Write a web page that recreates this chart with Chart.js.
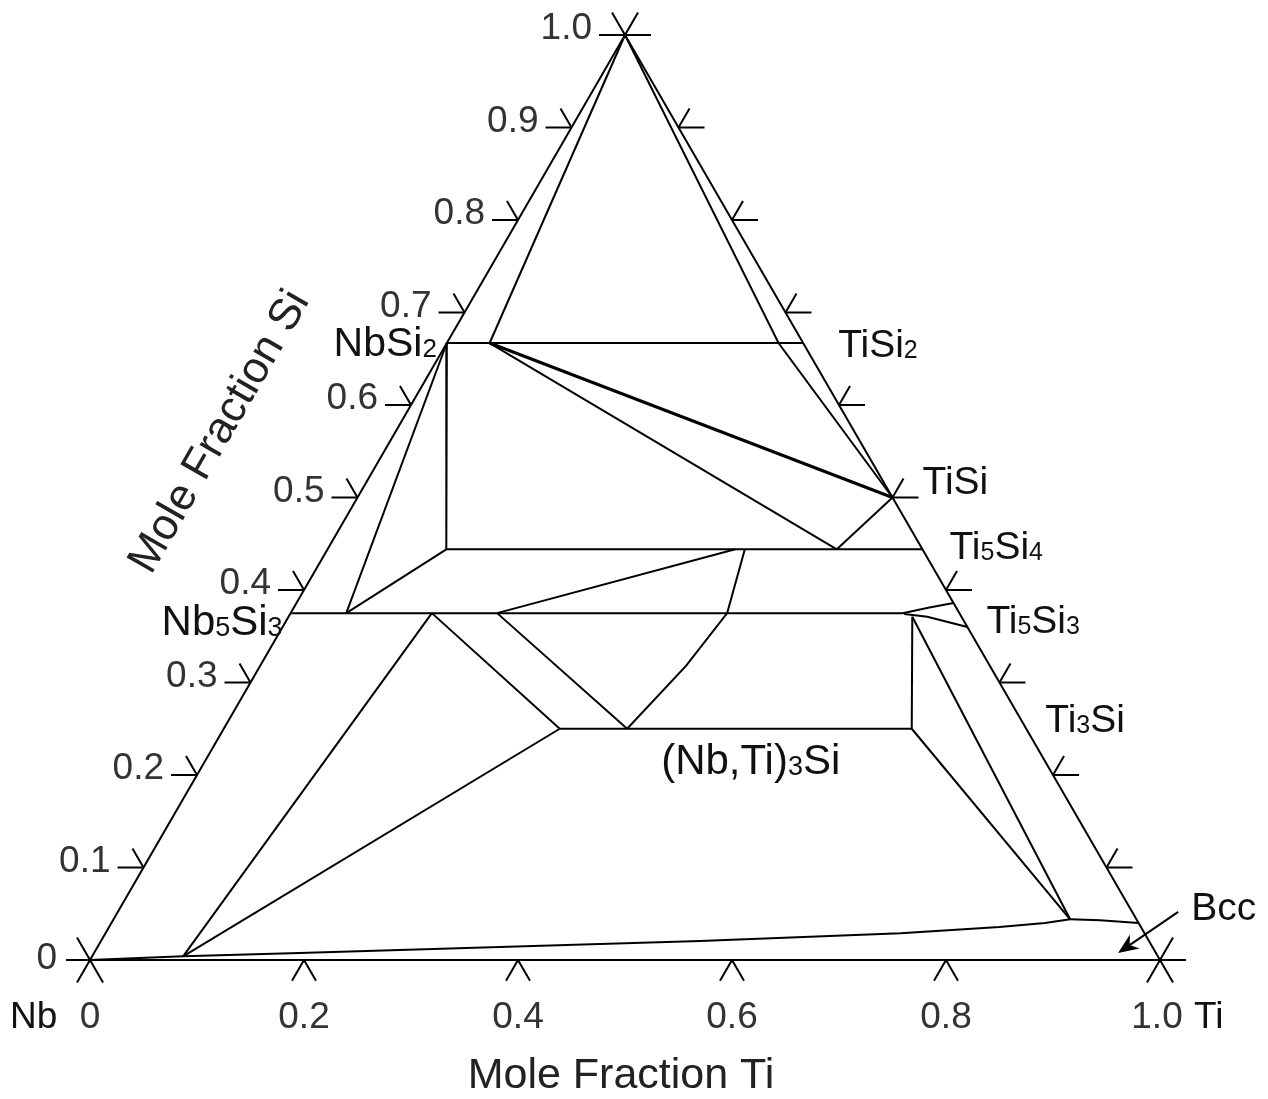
<!DOCTYPE html>
<html>
<head>
<meta charset="utf-8">
<script src="https://cdn.jsdelivr.net/npm/chart.js@4.4.0/dist/chart.umd.min.js"></script>
<style>
  html, body { margin: 0; padding: 0; background: #fff; }
  canvas { display: block; }
</style>
</head>
<body>
<canvas id="ternary" width="1268" height="1099"></canvas>
<script>
// every composition is [Ti, Si] mole fraction, Nb is the remainder
const outline = [[0, 0], [1, 0], [0, 1], [0, 0]];

// NbSi2 / TiSi2 region
const apexToNbSi2Side = [[0, 1], [0.04, 0.667]];
const apexToTiSi = [[0, 1], [0.31, 0.667], [0.5, 0.5]];
const si2Line = [[0, 0.667], [0.333, 0.667]];
const si2ToTiSi = [[0.04, 0.667], [0.5, 0.5]];
const si2ToTi5Si4 = [[0.04, 0.667], [0.476, 0.444]];
const tiSiTie = [[0.476, 0.444], [0.5, 0.5]];

// Ti5Si4 level
const ti5si4Line = [[0.111, 0.444], [0.556, 0.444]];
const nbSi2Down = [[0, 0.667], [0.111, 0.444]];
const nbSi2ToNb5Si3 = [[0, 0.667], [0.052, 0.375]];
const ti5si4ToNb5Si3 = [[0.111, 0.444], [0.052, 0.375]];

// 5:3 silicide level
const m5si3Line = [[0, 0.375], [0.572, 0.375], [0.594, 0.381], [0.614, 0.386]];
const ti5si3Lower = [[0.574, 0.374], [0.597, 0.371], [0.64, 0.36]];
const nb5si3ToBcc = [[0.132, 0.375], [0.085, 0.004]];
const nb5si3To3Si = [[0.132, 0.375], [0.314, 0.25]];
const m3siToBcc = [[0.314, 0.25], [0.085, 0.004]];
const nb5si3To3SiRight = [[0.193, 0.375], [0.377, 0.25]];
const nb5si3ToTi5Si4 = [[0.193, 0.375], [0.381, 0.444]];
const ti5si4Curve = [[0.39, 0.444], [0.408, 0.375], [0.398, 0.318], [0.377, 0.25]];

// (Nb,Ti)3Si level and Bcc
const m3siLine = [[0.314, 0.25], [0.643, 0.25]];
const m3siUp = [[0.643, 0.25], [0.583, 0.371]];
const m3siToBcc2 = [[0.643, 0.25], [0.894, 0.044]];
const ti5si3ToBcc = [[0.583, 0.371], [0.894, 0.044]];
const bccTop = [[0.894, 0.044], [0.9225, 0.043], [0.96, 0.04]];
const bccCurve = [[0, 0], [0.085, 0.004], [0.192, 0.0076], [0.376, 0.014], [0.56, 0.0205],
                  [0.743, 0.029], [0.832, 0.0357], [0.8725, 0.04], [0.894, 0.044]];

// axis ticks
const siTicks = [0.1, 0.2, 0.3, 0.4, 0.5, 0.6, 0.7, 0.8, 0.9];
const tiTicks = [0.2, 0.4, 0.6, 0.8];
const siTickValues = [0, 0.1, 0.2, 0.3, 0.4, 0.5, 0.6, 0.7, 0.8, 0.9, 1.0];
const siTickLabels = ['0', '0.1', '0.2', '0.3', '0.4', '0.5', '0.6', '0.7', '0.8', '0.9', '1.0'];
const tiTickValues = [0, 0.2, 0.4, 0.6, 0.8, 1.0];
const tiTickLabels = ['0', '0.2', '0.4', '0.6', '0.8', '1.0'];

// Bcc arrow, tail then head
const bccArrow = [[0.991, 0.052], [0.957, 0.0076]];

const toXY = p => ({ x: p[0] + p[1] / 2, y: p[1] });

const lines = [
    outline, apexToNbSi2Side, apexToTiSi, si2Line, si2ToTi5Si4, tiSiTie,
    ti5si4Line, nbSi2Down, nbSi2ToNb5Si3, ti5si4ToNb5Si3, m5si3Line, ti5si3Lower,
    nb5si3ToBcc, nb5si3To3Si, m3siToBcc, nb5si3To3SiRight, nb5si3ToTi5Si4, ti5si4Curve,
    m3siLine, m3siUp, m3siToBcc2, ti5si3ToBcc, bccTop, bccCurve
];

const datasets = lines.map(l => ({
    data: l.map(toXY),
    showLine: true,
    borderColor: '#000',
    borderWidth: 2,
    pointRadius: 0,
    tension: 0,
    clip: false
}));
// the tie line to TiSi is drawn heavier
datasets.push({
    data: si2ToTiSi.map(toXY),
    showLine: true,
    borderColor: '#000',
    borderWidth: 3,
    pointRadius: 0,
    clip: false
});

const FONT = '"Liberation Sans", Arial, sans-serif';

function drawRich(ctx, parts, x, y, size, align) {
    const sub = Math.round(size * 0.64);
    let w = 0;
    parts.forEach(([txt, isSub]) => {
        ctx.font = (isSub ? sub : size) + 'px ' + FONT;
        w += ctx.measureText(txt).width;
    });
    let cx = align === 'right' ? x - w : x;
    ctx.textAlign = 'left';
    ctx.textBaseline = 'alphabetic';
    parts.forEach(([txt, isSub]) => {
        ctx.font = (isSub ? sub : size) + 'px ' + FONT;
        ctx.fillText(txt, cx, y + (isSub ? 1 : 0));
        cx += ctx.measureText(txt).width;
    });
}

const ternaryDecor = {
    id: 'ternaryDecor',
    beforeDraw(chart) {
        const ctx = chart.ctx;
        ctx.save();
        ctx.fillStyle = '#fff';
        ctx.fillRect(0, 0, chart.width, chart.height);
        ctx.restore();
    },
    afterDatasetsDraw(chart) {
        const ctx = chart.ctx;
        const xs = chart.scales.x, ys = chart.scales.y;
        const px = (ti, si) => [xs.getPixelForValue(ti + si / 2), ys.getPixelForValue(si)];
        const c = 0.5, s = 0.866;

        ctx.save();
        ctx.strokeStyle = '#000';
        ctx.lineWidth = 2;
        const seg = (x0, y0, x1, y1) => {
            ctx.beginPath(); ctx.moveTo(x0, y0); ctx.lineTo(x1, y1); ctx.stroke();
        };

        // left edge ticks
        siTicks.forEach(v => {
            const [x, y] = px(0, v);
            seg(x, y, x - 26, y);
            seg(x, y, x - c * 22, y - s * 22);
        });
        // right edge ticks
        siTicks.forEach(v => {
            const [x, y] = px(1 - v, v);
            seg(x, y, x + 26, y);
            seg(x, y, x + c * 22, y - s * 22);
        });
        // bottom ticks
        tiTicks.forEach(v => {
            const [x, y] = px(v, 0);
            seg(x, y, x - c * 24, y + s * 24);
            seg(x, y, x + c * 24, y + s * 24);
        });
        // corners
        let [x, y] = px(0, 0);
        seg(x, y, x - 24, y);
        seg(x, y, x - c * 26, y + s * 26);
        seg(x - c * 26, y - s * 26, x + c * 26, y + s * 26);
        [x, y] = px(0, 1);
        seg(x - 26, y, x + 26, y);
        seg(x, y, x + c * 26, y - s * 26);
        seg(x, y, x - c * 26, y - s * 26);
        [x, y] = px(1, 0);
        seg(x, y, x + 26, y);
        seg(x, y, x + c * 26, y + s * 26);
        seg(x - c * 26, y + s * 26, x + c * 26, y - s * 26);

        // Bcc arrow
        const [tx, ty] = px(bccArrow[0][0], bccArrow[0][1]);
        const [hx, hy] = px(bccArrow[1][0], bccArrow[1][1]);
        const ang = Math.atan2(hy - ty, hx - tx);
        seg(tx, ty, hx - Math.cos(ang) * 10, hy - Math.sin(ang) * 10);
        ctx.fillStyle = '#000';
        ctx.beginPath();
        ctx.moveTo(hx, hy);
        ctx.lineTo(hx - Math.cos(ang - 0.4) * 22, hy - Math.sin(ang - 0.4) * 22);
        ctx.lineTo(hx - Math.cos(ang) * 14, hy - Math.sin(ang) * 14);
        ctx.lineTo(hx - Math.cos(ang + 0.4) * 22, hy - Math.sin(ang + 0.4) * 22);
        ctx.closePath();
        ctx.fill();

        // tick labels
        ctx.fillStyle = '#333';
        ctx.font = '37px ' + FONT;
        ctx.textAlign = 'right';
        ctx.textBaseline = 'middle';
        siTickValues.forEach((v, i) => {
            const [lx, ly] = px(0, v);
            ctx.fillText(siTickLabels[i], lx - 33, ly - (v === 0 ? 1 : 6));
        });
        ctx.textAlign = 'center';
        ctx.textBaseline = 'alphabetic';
        tiTickValues.forEach((v, i) => {
            const [lx, ly] = px(v, 0);
            ctx.fillText(tiTickLabels[i], lx + (v === 1 ? -3 : 0), ly + 68);
        });

        // component names at the bottom corners
        ctx.fillStyle = '#111';
        ctx.font = '37px ' + FONT;
        ctx.textAlign = 'left';
        let [nx, ny] = px(0, 0);
        ctx.fillText('Nb', nx - 80, ny + 68);
        [nx, ny] = px(1, 0);
        ctx.fillText('Ti', nx + 34, ny + 68);

        // axis titles
        ctx.fillStyle = '#222';
        ctx.font = '43px ' + FONT;
        ctx.textAlign = 'center';
        ctx.textBaseline = 'middle';
        ctx.fillText('Mole Fraction Ti', 621, 1076);
        ctx.save();
        ctx.translate(220, 432);
        ctx.rotate(-Math.PI / 3);
        ctx.font = '44px ' + FONT;
        ctx.fillText('Mole Fraction Si', 0, 0);
        ctx.restore();

        // phase labels
        ctx.fillStyle = '#111';
        const P = 39;
        let [ax, ay] = px(0, 0.667);
        drawRich(ctx, [['NbSi', 0], ['2', 1]], ax - 10, ay + 13, 41, 'right');
        [ax, ay] = px(0.333, 0.667);
        drawRich(ctx, [['TiSi', 0], ['2', 1]], ax + 35, ay + 14, P, 'left');
        [ax, ay] = px(0.5, 0.5);
        drawRich(ctx, [['TiSi', 0]], ax + 30, ay - 4, P, 'left');
        [ax, ay] = px(0.556, 0.444);
        drawRich(ctx, [['Ti', 0], ['5', 1], ['Si', 0], ['4', 1]], ax + 27, ay + 10, P, 'left');
        [ax, ay] = px(0, 0.375);
        drawRich(ctx, [['Nb', 0], ['5', 1], ['Si', 0], ['3', 1]], ax - 8, ay + 22, 42, 'right');
        [ax, ay] = px(0.625, 0.375);
        drawRich(ctx, [['Ti', 0], ['5', 1], ['Si', 0], ['3', 1]], ax + 27, ay + 20, P, 'left');
        [ax, ay] = px(0.75, 0.25);
        drawRich(ctx, [['Ti', 0], ['3', 1], ['Si', 0]], ax + 19, ay + 3, P, 'left');
        [ax, ay] = px(0.377, 0.25);
        drawRich(ctx, [['(Nb,Ti)', 0], ['3', 1], ['Si', 0]], ax + 34, ay + 45, 42, 'left');
        drawRich(ctx, [['Bcc', 0]], tx + 13, ty + 8, P, 'left');

        ctx.restore();
    }
};

new Chart(document.getElementById('ternary'), {
    type: 'scatter',
    data: { datasets: datasets },
    options: {
        responsive: false,
        animation: false,
        layout: { padding: { left: 90, right: 108, top: 35, bottom: 139 } },
        scales: {
            x: { type: 'linear', min: 0, max: 1, display: false },
            y: { type: 'linear', min: 0, max: 1, display: false }
        },
        plugins: { legend: { display: false }, tooltip: { enabled: false } }
    },
    plugins: [ternaryDecor]
});
</script>
</body>
</html>
